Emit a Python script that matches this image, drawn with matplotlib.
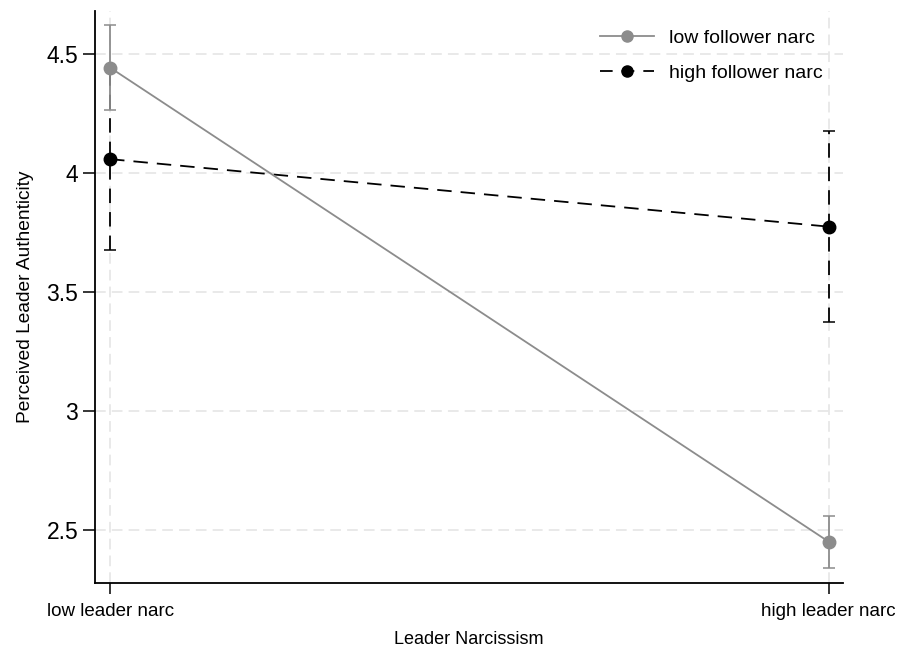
"""Interaction plot: leader x follower narcissism on perceived authenticity."""
import matplotlib
matplotlib.use("Agg")
import matplotlib.pyplot as plt
from matplotlib.lines import Line2D

plt.rcParams["font.family"] = ["Liberation Sans", "DejaVu Sans"]

X_LABELS = ["low leader narc", "high leader narc"]
SERIES = ["low follower narc", "high follower narc"]
LOW_FOLLOWER = [4.443, 2.449]
LOW_FOLLOWER_CI = [0.179, 0.110]
HIGH_FOLLOWER = [4.058, 3.774]
HIGH_FOLLOWER_CI = [0.382, 0.402]
Y_TICKS = [2.5, 3, 3.5, 4, 4.5]
Y_TICKLABELS = ["2.5", "3", "3.5", "4", "4.5"]

GREY = "#8c8c8c"
DASH = (8, 5)

x = list(range(len(X_LABELS)))

fig = plt.figure(figsize=(9.02, 6.48), dpi=100)
ax = fig.add_axes([0.1053, 0.101, 0.8293, 0.882])

grid_kw = dict(color="#e3e3e3", lw=1.1, dashes=(7, 4), zorder=0)
for yv in Y_TICKS:
    ax.axhline(yv, **grid_kw)
for xv in x:
    ax.axvline(xv, **grid_kw)

# low follower narc: grey solid
ax.errorbar(x, LOW_FOLLOWER, yerr=LOW_FOLLOWER_CI, color=GREY, lw=1.3,
            marker="o", ms=9, capsize=4, elinewidth=1.3, capthick=1.1,
            zorder=3)

# high follower narc: black dashed
eb = ax.errorbar(x, HIGH_FOLLOWER, yerr=HIGH_FOLLOWER_CI, color="black", lw=1.3,
                 marker="o", ms=9, capsize=4, elinewidth=1.3, capthick=1.1,
                 dashes=DASH, zorder=2)
for col in eb[2]:
    col.set_linestyle((0, DASH))

ax.set_xlim(-0.021, 1.02)
ax.set_ylim(2.277, 4.681)
ax.set_xticks(x)
ax.set_xticklabels(X_LABELS, fontsize=13.5)
ax.set_yticks(Y_TICKS)
ax.set_yticklabels(Y_TICKLABELS, fontsize=16.5)
ax.tick_params(axis="y", length=9, width=1.1, pad=3)
ax.tick_params(axis="x", length=8, width=1.1, pad=7)

for s in ["top", "right"]:
    ax.spines[s].set_visible(False)
for s in ["left", "bottom"]:
    ax.spines[s].set_linewidth(1.3)

ax.set_xlabel("Leader Narcissism", fontsize=13, labelpad=8)
ax.set_ylabel("Perceived Leader Authenticity", fontsize=13.8, labelpad=9)

handles = [
    Line2D([], [], color=GREY, lw=1.3, marker="o", ms=8),
    Line2D([], [], color="black", lw=1.3, marker="o", ms=8, dashes=(7, 5)),
]
fig.legend(handles, SERIES, loc="upper left",
           bbox_to_anchor=(600 / 902, 1 - 29 / 648), frameon=False,
           fontsize=14, handlelength=2.8, labelspacing=0.92,
           handletextpad=0.75, borderaxespad=0, borderpad=0)

fig.savefig("out.png", dpi=100)
